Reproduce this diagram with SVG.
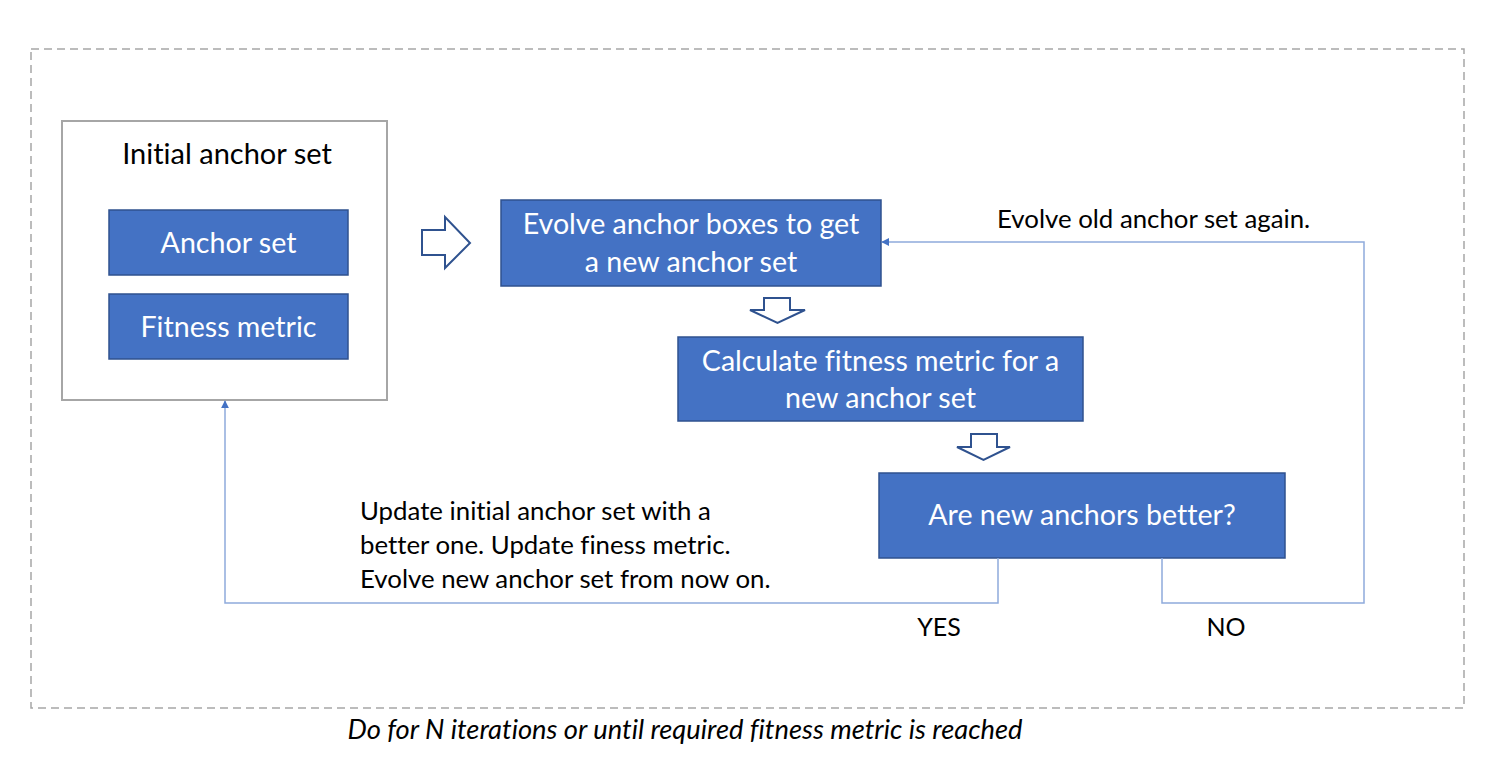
<svg xmlns="http://www.w3.org/2000/svg" width="1493" height="766" viewBox="0 0 1493 766">
<defs>
<style>
text{font-variant-ligatures:none}
.box{fill:#4472C4;stroke:#2F528F;stroke-width:1.5}
.wt{fill:#ffffff;font-family:Lato,"Liberation Sans",sans-serif;font-size:28.6px;text-anchor:middle}
.bt{fill:#000000;font-family:Lato,"Liberation Sans",sans-serif;font-size:25.8px}
.title{font-size:29px;text-anchor:middle}
.yn{font-size:25px;text-anchor:middle}
.note{font-size:27.3px;font-style:italic;text-anchor:middle}
.conn{fill:none;stroke:#8FAADC;stroke-width:1.5}
.hollow{fill:#ffffff;stroke:#2F528F;stroke-width:2;stroke-linejoin:miter}
</style>
<marker id="ah" viewBox="0 0 10 10" refX="9" refY="5" markerWidth="8" markerHeight="8" markerUnits="userSpaceOnUse" orient="auto">
<path d="M0,0 L10,5 L0,10 z" fill="#4472C4"/>
</marker>
</defs>
<rect width="1493" height="766" fill="#ffffff"/>
<g id="frame">
<rect x="31" y="49" width="1433" height="659" fill="none" stroke="#a6a6a6" stroke-width="1.5" stroke-dasharray="8,5"/>
</g>
<g id="initial">
<rect x="62" y="121" width="325" height="279" fill="#ffffff" stroke="#a6a6a6" stroke-width="2"/>
<text class="bt title" x="227" y="164">Initial anchor set</text>
</g>
<g id="anchorset">
<rect class="box" x="109" y="210" width="239" height="65"/>
<text class="wt" x="228.5" y="253">Anchor set</text>
</g>
<g id="fitness">
<rect class="box" x="109" y="294" width="239" height="65"/>
<text class="wt" x="228.5" y="337">Fitness metric</text>
</g>
<g id="evolve">
<rect class="box" x="501" y="200" width="380" height="86"/>
<text class="wt" x="691" y="234">Evolve anchor boxes to get</text>
<text class="wt" x="691" y="272">a new anchor set</text>
</g>
<g id="calc">
<rect class="box" x="678" y="337" width="405" height="84"/>
<text class="wt" x="880.5" y="371">Calculate fitness metric for a</text>
<text class="wt" x="880.5" y="408">new anchor set</text>
</g>
<g id="decision">
<rect class="box" x="879" y="473" width="406" height="85"/>
<text class="wt" x="1082" y="525">Are new anchors better?</text>
</g>
<g id="bigarrows">
<path class="hollow" d="M422,230 L445,230 L445,217 L470,243 L445,268 L445,255 L422,255 Z"/>
<path class="hollow" d="M764,298 L790,298 L790,310 L805,310 L777.5,323 L750,310 L764,310 Z"/>
<path class="hollow" d="M971,434 L997,434 L997,447 L1010,447 L983.5,460 L957,447 L971,447 Z"/>
</g>
<g id="connectors">
<path class="conn" d="M998,558 L998,603 L225,603 L225,401" marker-end="url(#ah)"/>
<path class="conn" d="M1162,558 L1162,603 L1364,603 L1364,242 L882,242" marker-end="url(#ah)"/>
</g>
<g id="labels">
<text class="bt" x="997" y="228">Evolve old anchor set again.</text>
<text class="bt" x="360" y="520">Update initial anchor set with a</text>
<text class="bt" x="360" y="554">better one. Update finess metric.</text>
<text class="bt" x="360" y="588">Evolve new anchor set from now on.</text>
<text class="bt yn" x="939" y="636">YES</text>
<text class="bt yn" x="1226" y="636">NO</text>
<text class="bt note" x="685" y="739">Do for N iterations or until required fitness metric is reached</text>
</g>
</svg>
